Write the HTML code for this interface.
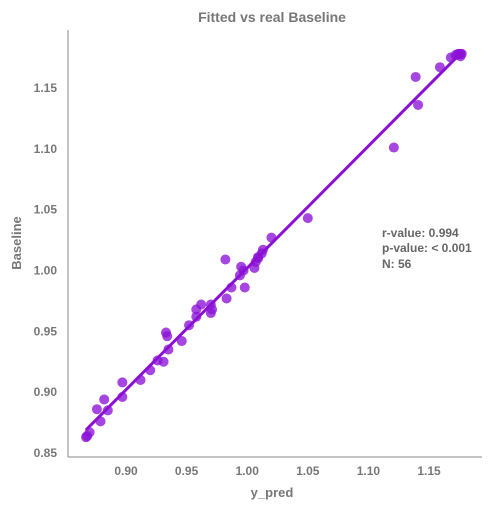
<!DOCTYPE html>
<html><head><meta charset="utf-8"><style>
body{margin:0;background:#fff;font-family:"Liberation Sans",sans-serif;}
svg text{fill:#777;font-family:"Liberation Sans",sans-serif;}
</style></head><body>
<svg id="chart" width="495" height="510">
<text x="272" y="22" text-anchor="middle" font-size="14" font-weight="bold">Fitted vs real Baseline</text>
<line x1="68" y1="30" x2="68" y2="457" stroke="#888" stroke-width="1"/>
<line x1="68" y1="457" x2="482" y2="457" stroke="#888" stroke-width="1"/>
<g id="xt"></g><g id="yt"></g>
<text x="272" y="497" text-anchor="middle" font-size="13" font-weight="bold">y_pred</text>
<text transform="translate(21,243) rotate(-90)" text-anchor="middle" font-size="13" font-weight="bold">Baseline</text>
<g id="pts"></g><g id="ln"></g>
<g font-size="12" font-weight="bold">
<text x="382" y="237" style="fill:#666">r-value: 0.994</text>
<text x="382" y="252" style="fill:#666">p-value: &lt; 0.001</text>
<text x="382" y="268" style="fill:#666">N: 56</text>
</g>
</svg>
<script>
const xTicks=[0.90,0.95,1.00,1.05,1.10,1.15];
const yTicks=[0.85,0.90,0.95,1.00,1.05,1.10,1.15];
const xVals=[0.868,0.867,0.870,0.879,0.876,0.882,0.885,0.897,0.897,0.912,0.920,0.926,0.931,0.934,0.935,0.933,0.946,0.952,0.958,0.958,0.962,0.970,0.970,0.971,0.983,0.982,0.987,0.994,0.997,0.995,0.998,1.006,1.007,1.009,1.009,1.012,1.013,1.020,1.050,1.121,1.141,1.139,1.159,1.168,1.172,1.174,1.176,1.176,1.177,1.175];
const yVals=[0.864,0.863,0.867,0.876,0.886,0.894,0.885,0.896,0.908,0.910,0.918,0.926,0.925,0.946,0.935,0.949,0.942,0.955,0.968,0.962,0.972,0.972,0.965,0.968,0.977,1.009,0.986,0.996,1.000,1.003,0.986,1.002,1.007,1.010,1.011,1.014,1.017,1.027,1.043,1.101,1.136,1.159,1.167,1.175,1.177,1.178,1.176,1.178,1.178,1.178];
const NS='http://www.w3.org/2000/svg';
const X=v=>126+(v-0.9)*1212;
const Y=v=>453-(v-0.85)*1217;
function mk(t,a,p){const e=document.createElementNS(NS,t);for(const k in a)e.setAttribute(k,a[k]);document.getElementById(p).appendChild(e);return e;}
xTicks.forEach(v=>{const t=mk('text',{x:X(v),y:475,'text-anchor':'middle','font-size':'12','font-weight':'bold'},'xt');t.textContent=v.toFixed(2);

});
yTicks.forEach(v=>{const t=mk('text',{x:57,y:Y(v)+4,'text-anchor':'end','font-size':'12','font-weight':'bold'},'yt');t.textContent=v.toFixed(2);

});
xVals.forEach((v,i)=>{const c=mk('circle',{cx:X(v),cy:Y(yVals[i]),r:5,fill:'#8a12d6','fill-opacity':0.78},'pts');

});
const n=xVals.length,mx=xVals.reduce((a,b)=>a+b)/n,my=yVals.reduce((a,b)=>a+b)/n;
let sxy=0,sxx=0;xVals.forEach((x,i)=>{sxy+=(x-mx)*(yVals[i]-my);sxx+=(x-mx)**2;});
const b=sxy/sxx,a=my-b*mx;
const x0=Math.min(...xVals),x1=Math.max(...xVals);
const l=mk('line',{x1:X(x0),y1:Y(a+b*x0),x2:X(x1),y2:Y(a+b*x1),stroke:'#8b10d4','stroke-width':3},'ln');


</script>
</body></html>
